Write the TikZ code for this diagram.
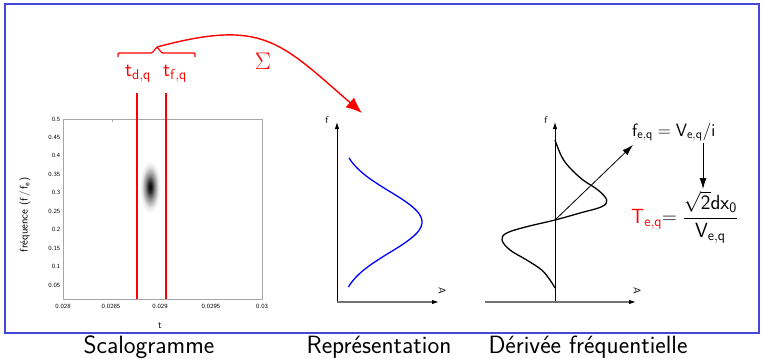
\RequirePackage{fix-cm}
\documentclass[tikz,border=0pt]{standalone}
\usetikzlibrary{arrows.meta}
\definecolor{framecol}{RGB}{70,70,215}
\pgfdeclareradialshading{blob}{\pgfpoint{0bp}{0bp}}{color(0bp)=(black); color(4bp)=(black!85); color(10bp)=(black!45); color(17bp)=(black!10); color(22bp)=(white); color(50bp)=(white)}
\begin{document}
\begin{tikzpicture}[x=1pt,y=-1pt, font=\sffamily,
  redline/.style={red, line width=1.6pt},
  axisv/.style={black, line width=0.9pt, -{Latex[length=7pt,width=4.5pt]}},
  axish/.style={black!55, line width=1.1pt, -{Latex[length=7pt,width=4.5pt,color=black]}},
  ticklab/.style={font=\sffamily\fontsize{6.3}{7}\selectfont, inner sep=0.5pt},
  smalllab/.style={font=\sffamily\fontsize{10}{11}\selectfont, inner sep=0pt},
  tlab/.style={font=\sffamily\fontsize{20.5}{23}\selectfont, inner sep=1pt},
  eqlab/.style={font=\sffamily\fontsize{17.9}{21}\selectfont, inner sep=1pt},
  caption/.style={font=\sffamily\fontsize{25}{28}\selectfont, inner sep=0pt},
  thinarrow/.style={black, line width=0.8pt, -{Latex[length=11pt,width=7pt]}}]
\useasboundingbox (0,0) rectangle (761,359);
\draw[framecol, line width=1.3pt] (5,4) rectangle (759,333);

% ---- Scalogram ----
\shade[shading=blob] (150,187) ellipse (12pt and 30pt);
\draw[black!35, line width=0.6pt] (63,119) rectangle (262,299);
\draw[black!35, line width=0.5pt] (112,119) -- (112,122);
\foreach \i/\l in {0/0.5,1/0.45,2/0.4,3/0.35,4/0.3,5/0.25,6/0.2,7/0.15,8/0.1,9/0.05}
  \node[ticklab, anchor=east] (yl\i) at (61,{119+\i*18.44}) {\l};
\foreach \xx/\l [count=\k] in {63/0.028,111/0.0285,160/0.029,211/0.0295,262/0.03}
  \node[ticklab] (xl\k) at (\xx,306) {\l};
\node[font=\sffamily\fontsize{11}{12}\selectfont, inner sep=0pt, rotate=90] (ylab) at (25,215) {fréquence (f\,/\,f\textsubscript{e})};
\node[smalllab] (tlab) at (160,326) {t};
\coordinate (td1) at (137,93); \coordinate (td2) at (137,299);
\coordinate (tf1) at (166,93); \coordinate (tf2) at (166,299);
\draw[redline] (td1) -- (td2);
\draw[redline] (tf1) -- (tf2);

% ---- brace, labels, sum arrow ----
\coordinate (bracetip) at (157,47);
\draw[red, line width=1.2pt, rounded corners=1pt] (118,57) -- (118,53) -- (152,53) -- (bracetip) -- (162,53) -- (195,53) -- (195,57);
\node[tlab, red] (tdq) at (138,74) {$\mathsf{t}_{\mathsf{d,q}}$};
\node[tlab, red] (tfq) at (175,74) {$\mathsf{t}_{\mathsf{f,q}}$};
\node[red, font=\fontsize{24}{26}\selectfont] (sigma) at (263,61) {$\Sigma$};
\coordinate (reptarget) at (362,113);
\draw[red, line width=1.4pt, -{Latex[length=16pt,width=13pt]}] (bracetip) to[out=15, in=139, looseness=1.3] (reptarget);

% ---- Representation ----
\coordinate (r0) at (337,302); \coordinate (rf) at (337,122); \coordinate (rA) at (439,302);
\draw[axisv] (r0) -- (rf);
\draw[axish] (r0) -- (rA);
\node[smalllab] (rflab) at (327,120) {f};
\node[smalllab, rotate=-90] (rAlab) at (442,291) {A};
\draw[blue, line width=1.3pt, domain=-64:65, samples=70, smooth] plot ({340+82*exp(-(\x*\x)/1860)}, {222+\x});

% ---- Derivee ----
\coordinate (d0) at (555,302); \coordinate (df) at (555,122); \coordinate (dA) at (636,302);
\coordinate (dl) at (485,302);
\draw[axisv] (d0) -- (df);
\draw[axish] (dl) -- (dA);
\node[smalllab] (dflab) at (546,120) {f};
\node[smalllab, rotate=-90] (dAlab) at (637,291) {A};
\draw[black, line width=1.3pt] plot[smooth, tension=0.6] coordinates {(555,140) (561.7,156.7) (570,168) (583,180) (598,190) (606.7,200) (601.7,206.7) (580,213) (555,220) (526.7,226.7) (506.7,233) (502,240) (510,250) (526.7,260) (541.7,270) (550,280) (555,288)};
\coordinate (cross) at (555,220);
\node[eqlab, anchor=west] (fe) at (631,132) {$\mathsf{f}_{\mathsf{e,q}} = \mathsf{V}_{\mathsf{e,q}}/\mathsf{i}$};
\coordinate (feend) at (633,145);
\draw[thinarrow] (cross) -- (feend);
\coordinate (dn1) at (703,143); \coordinate (dn2) at (703,189);
\draw[thinarrow] (dn1) -- (dn2);
\node[font=\sffamily\fontsize{20.5}{23}\selectfont, inner sep=1pt, anchor=west] (teq) at (630,217) {$\color{red}\mathsf{T}_{\mathsf{e,q}}\color{black}{=}\;\displaystyle\frac{\sqrt{\mathsf{2}}\mathsf{dx}_{\mathsf{0}}}{\mathsf{V}_{\mathsf{e,q}}}$};

% ---- captions ----
\node[caption] (c1) at (149,347) {Scalogramme};
\node[caption] (c2) at (379,347) {Représentation};
\node[caption] (c3) at (588,347) {Dérivée fréquentielle};
\end{tikzpicture}
\end{document}
